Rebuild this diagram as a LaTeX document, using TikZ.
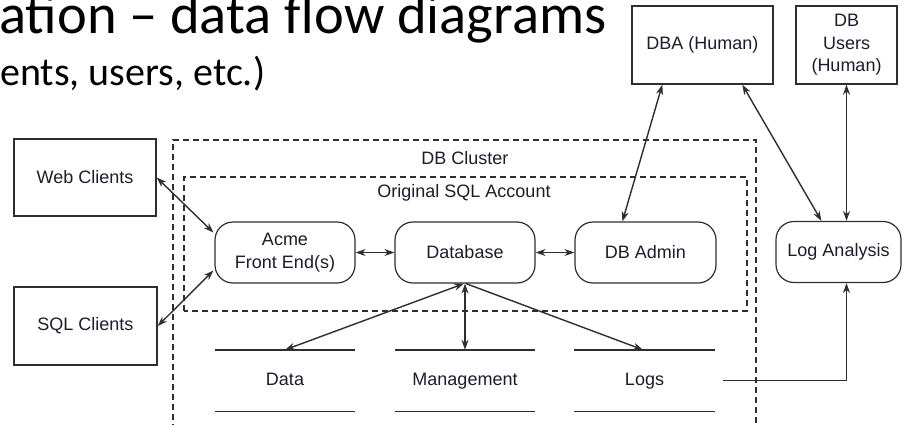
\documentclass[tikz,border=0pt]{standalone}
\usepackage{fontspec}
\setmainfont{Liberation Sans}
\newfontfamily\titlefont{Carlito}
\usetikzlibrary{arrows.meta,calc}
\definecolor{ln}{HTML}{2E2E2E}
\definecolor{tx}{HTML}{1C1C2A}
\begin{document}
\begin{tikzpicture}[x=1pt,y=-1pt,
  every node/.style={font=\fontsize{18}{22.5}\selectfont, text=tx},
  box/.style={draw=ln, line width=1.4pt, inner sep=0pt, align=center},
  rbox/.style={draw=ln, line width=1.2pt, rounded corners=18pt, inner sep=0pt, align=center, minimum height=61pt},
  store/.style={inner sep=0pt, minimum height=61pt, text height=13pt, text depth=4pt},
  storeline/.style={draw=ln, line width=1.4pt},
  clusterline/.style={draw=ln, line width=1.3pt, dash pattern=on 6pt off 4pt},
  tip/.style={},
  dar/.style={draw=ln, line width=1.4pt, {Stealth[length=10pt,width=7pt]}-{Stealth[length=10pt,width=7pt]}},
  sar/.style={draw=ln, line width=1.4pt, -{Stealth[length=10pt,width=7pt]}}
]
\useasboundingbox (0,0) rectangle (904,424);
\clip (0,0) rectangle (904,424);

% slide text
\node[anchor=base west, inner sep=0pt, font=\titlefont\fontsize{56.5}{60}\selectfont, text=black] (title) at (-1,33) {ation – data flow diagrams};
\node[anchor=base west, inner sep=0pt, font=\titlefont\fontsize{40}{48}\selectfont, text=black] (sub) at (0,85) {ents, users, etc.)};

% dashed clusters
\draw[clusterline] (173,440) -- (173,140) -- (756,140) -- (756,440);
\draw[clusterline] (184,311) -- (184,177) -- (747,177) -- (747,311) -- cycle;
\node (clusterlbl) at (465,158) {DB Cluster};
\node (acctlbl) at (464,193) {Original SQL Account};

% external boxes
\node[box, minimum width=142pt, minimum height=77pt] (web) at (85,177.5) {Web Clients};
\node[box, minimum width=143pt, minimum height=78pt] (sql) at (85.5,326) {SQL Clients};
\node[box, minimum width=141pt, minimum height=78pt] (dba) at (702.5,45) {DBA (Human)};
\node[box, minimum width=101pt, minimum height=78pt] (users) at (846.5,45) {DB\\Users\\(Human)};

% processes
\node[rbox, minimum width=140pt] (acme) at (285,252.5) {Acme\\Front End(s)};
\node[rbox, minimum width=140pt] (db) at (465,252.5) {Database};
\node[rbox, minimum width=141pt] (admin) at (645.5,252.5) {DB Admin};
\node[rbox, minimum width=125pt] (loga) at (838.5,252) {Log Analysis};

% data stores
\node[store, minimum width=140pt] (data) at (285,380.5) {Data};
\node[store, minimum width=140pt] (mgmt) at (465,380.5) {Management};
\node[store, minimum width=141pt] (logs) at (644.5,380.5) {Logs};
\foreach \s in {data,mgmt,logs}{
  \draw[storeline] (\s.north west) -- (\s.north east);
  \draw[storeline] (\s.south west) -- (\s.south east);
}

% connectors
\draw[dar] (web.east) -- ($(acme.west)+(-1,-20)$);
\draw[dar] (sql.east) -- ($(acme.west)+(-1,18)$);
\draw[dar] (acme.east) -- (db.west);
\draw[dar] (db.east) -- (admin.west);
\draw[dar] ($(dba.south west)+(31,0)$) -- ($(admin.north west)+(48,0)$);
\draw[dar] ($(dba.south west)+(111,0)$) -- ($(loga.north west)+(46,0)$);
\draw[dar] (users.south) -- (users.south |- loga.north);
\draw[dar] ($(db.south)+(-1,0)$) -- (data.north);
\draw[dar] (db.south) -- (mgmt.north);
\draw[sar] ($(db.south)+(1,0)$) -- ($(logs.north)+(-1.5,0)$);
\draw[sar] ($(logs.east)+(8,0)$) -| (users.south |- loga.south);
\end{tikzpicture}
\end{document}
